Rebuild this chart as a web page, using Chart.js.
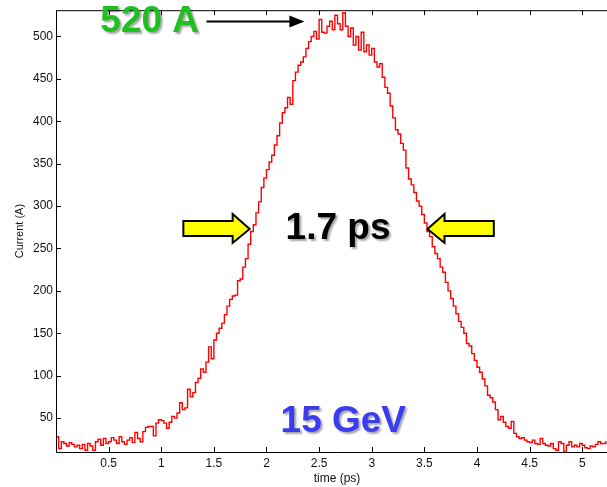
<!DOCTYPE html>
<html>
<head>
<meta charset="utf-8">
<script src="https://cdn.jsdelivr.net/npm/chart.js@4"></script>
<style>
  html, body { margin: 0; padding: 0; background: #fff; overflow: hidden; }
  #wrap { width: 607px; height: 487px; overflow: hidden; }
</style>
</head>
<body>
<div id="wrap"><canvas id="profile" width="620" height="487"></canvas></div>
<script>
// Sampling of the measured profile (ps)
const tStart = 0;
const tStep = 0.025;

// Current (A), every 0.025 ps
const current = [
  28, 14, 22, 20, 17, 21, 19, 16, 18, 14, 19, 12, 20, 17, 12, 22, 25, 18, 26, 20,
  22, 27, 24, 20, 28, 22, 19, 24, 27, 21, 33, 26, 22, 34, 39, 40, 40, 29, 44, 48,
  47, 44, 38, 45, 52, 50, 56, 68, 60, 62, 84, 75, 80, 92, 97, 108, 104, 116, 134, 120,
  142, 150, 156, 162, 172, 182, 190, 194, 195, 212, 214, 228, 238, 255, 270, 278, 292, 305, 322, 333,
  343, 352, 360, 372, 383, 398, 410, 416, 428, 420, 448, 458, 466, 470, 476, 486, 494, 500, 506, 497,
  520, 505, 504, 512, 518, 508, 525, 515, 508, 528, 512, 500, 510, 490, 500, 484, 505, 482, 490, 478,
  486, 470, 464, 468, 452, 440, 433, 418, 404, 390, 385, 374, 366, 345, 332, 325, 316, 306, 300, 290,
  280, 270, 264, 252, 244, 238, 228, 222, 210, 200, 191, 182, 173, 164, 157, 150, 138, 135, 126, 118,
  110, 104, 96, 88, 77, 74, 69, 60, 48, 52, 45, 40, 38, 46, 32, 28, 26, 27, 24, 22,
  21, 24, 20, 19, 26, 20, 18, 17, 20, 14, 12, 22, 20, 11, 18, 22, 16, 18, 16, 20,
  18, 15, 14, 17, 16, 19, 22, 20, 20, 23
];

const xTicks = [0.5, 1, 1.5, 2, 2.5, 3, 3.5, 4, 4.5, 5];
const yTicks = [50, 100, 150, 200, 250, 300, 350, 400, 450, 500];

const FONT = "'Liberation Sans', Arial, sans-serif";

// Annotations, placed in data units (time ps, current A)
const notes = {
  peakText: { t: 0.89, a: 517, text: '520 A', color: '#1fbf1f' },
  peakArrow: { t0: 1.43, t1: 2.36, a: 518 },
  widthText: { t: 2.68, a: 273, text: '1.7 ps', color: '#000000' },
  leftArrow: { tail: 1.21, tip: 1.84, a: 273 },
  rightArrow: { tail: 4.16, tip: 3.53, a: 273 },
  energyText: { t: 2.73, a: 46, text: '15 GeV', color: '#3b3bef' }
};

// Frame with inward ticks, like the original plot
const framePlugin = {
  id: 'frame',
  afterDraw(chart) {
    const { ctx, chartArea: a, scales: { x, y } } = chart;
    ctx.save();
    ctx.strokeStyle = '#000';
    ctx.lineWidth = 1;
    ctx.beginPath();
    ctx.moveTo(a.left + 0.5, a.top + 0.5);
    ctx.lineTo(a.left + 0.5, a.bottom + 0.5);
    ctx.lineTo(a.right, a.bottom + 0.5);
    ctx.moveTo(a.left, a.top + 0.5);
    ctx.lineTo(a.right, a.top + 0.5);
    x.ticks.forEach(tk => {
      const px = Math.round(x.getPixelForValue(tk.value)) + 0.5;
      ctx.moveTo(px, a.bottom);
      ctx.lineTo(px, a.bottom - 5);
      ctx.moveTo(px, a.top);
      ctx.lineTo(px, a.top + 5);
    });
    y.ticks.forEach(tk => {
      const py = Math.round(y.getPixelForValue(tk.value)) + 0.5;
      ctx.moveTo(a.left, py);
      ctx.lineTo(a.left + 5, py);
    });
    ctx.stroke();
    ctx.restore();
  }
};

function blockArrow(ctx, xTail, xTip, yc) {
  const dir = Math.sign(xTip - xTail);
  const head = 17 * dir;
  ctx.beginPath();
  ctx.moveTo(xTail, yc - 8);
  ctx.lineTo(xTip - head, yc - 8);
  ctx.lineTo(xTip - head, yc - 15);
  ctx.lineTo(xTip, yc);
  ctx.lineTo(xTip - head, yc + 14);
  ctx.lineTo(xTip - head, yc + 7);
  ctx.lineTo(xTail, yc + 7);
  ctx.closePath();
  ctx.fillStyle = '#ffff00';
  ctx.fill();
  ctx.lineWidth = 2;
  ctx.strokeStyle = '#000';
  ctx.lineJoin = 'miter';
  ctx.stroke();
}

function bigText(ctx, n, x, y) {
  ctx.save();
  ctx.font = 'bold 37px ' + FONT;
  ctx.textAlign = 'center';
  ctx.textBaseline = 'middle';
  ctx.shadowColor = 'rgba(0,0,0,0.35)';
  ctx.shadowOffsetX = 2;
  ctx.shadowOffsetY = 2;
  ctx.shadowBlur = 2;
  ctx.fillStyle = n.color;
  ctx.fillText(n.text, x.getPixelForValue(n.t), y.getPixelForValue(n.a));
  ctx.restore();
}

const notesPlugin = {
  id: 'notes',
  afterDraw(chart) {
    const { ctx, scales: { x, y } } = chart;
    ctx.save();
    // black arrow to the peak
    const pa = notes.peakArrow;
    const ya = Math.round(y.getPixelForValue(pa.a)) + 0.5;
    const x0 = x.getPixelForValue(pa.t0), x1 = x.getPixelForValue(pa.t1);
    ctx.strokeStyle = '#000';
    ctx.lineWidth = 2;
    ctx.beginPath();
    ctx.moveTo(x0, ya);
    ctx.lineTo(x1 - 12, ya);
    ctx.stroke();
    ctx.fillStyle = '#000';
    ctx.beginPath();
    ctx.moveTo(x1, ya);
    ctx.lineTo(x1 - 15, ya - 6);
    ctx.lineTo(x1 - 15, ya + 6);
    ctx.closePath();
    ctx.fill();

    // yellow width arrows
    [notes.leftArrow, notes.rightArrow].forEach(ar => {
      blockArrow(ctx, x.getPixelForValue(ar.tail), x.getPixelForValue(ar.tip), y.getPixelForValue(ar.a));
    });
    ctx.restore();

    bigText(ctx, notes.peakText, x, y);
    bigText(ctx, notes.widthText, x, y);
    bigText(ctx, notes.energyText, x, y);
  }
};

const points = current.map((v, i) => ({ x: tStart + i * tStep, y: v }));

new Chart(document.getElementById('profile').getContext('2d'), {
  type: 'line',
  data: {
    datasets: [{
      label: 'Current',
      data: points,
      borderColor: '#ff0000',
      borderWidth: 1.4,
      pointRadius: 0,
      stepped: true,
      fill: false
    }]
  },
  options: {
    responsive: false,
    animation: false,
    devicePixelRatio: 1,
    layout: { padding: { top: 9, right: 2, left: 0, bottom: 0 } },
    plugins: {
      legend: { display: false },
      tooltip: { enabled: false }
    },
    scales: {
      x: {
        type: 'linear',
        min: 0,
        max: 5.34,
        afterBuildTicks: s => { s.ticks = xTicks.map(v => ({ value: v })); },
        afterFit: s => { s.height = 35; },
        grid: { display: false, drawTicks: false },
        border: { display: false },
        ticks: {
          color: '#111',
          padding: 4,
          maxRotation: 0,
          font: { family: FONT, size: 12 },
          callback: v => String(v)
        },
        title: {
          display: true,
          text: 'time (ps)',
          color: '#111',
          padding: { top: 0, bottom: 1 },
          font: { family: FONT, size: 12 }
        }
      },
      y: {
        min: 10,
        max: 531,
        afterBuildTicks: s => { s.ticks = yTicks.map(v => ({ value: v })); },
        afterFit: s => { s.width = 56; },
        grid: { display: false, drawTicks: false },
        border: { display: false },
        ticks: {
          color: '#111',
          padding: 3,
          font: { family: FONT, size: 12 }
        },
        title: {
          display: true,
          text: 'Current (A)',
          color: '#111',
          padding: { top: 13, bottom: 0 },
          font: { family: FONT, size: 11 }
        }
      }
    }
  },
  plugins: [framePlugin, notesPlugin]
});
</script>
</body>
</html>
